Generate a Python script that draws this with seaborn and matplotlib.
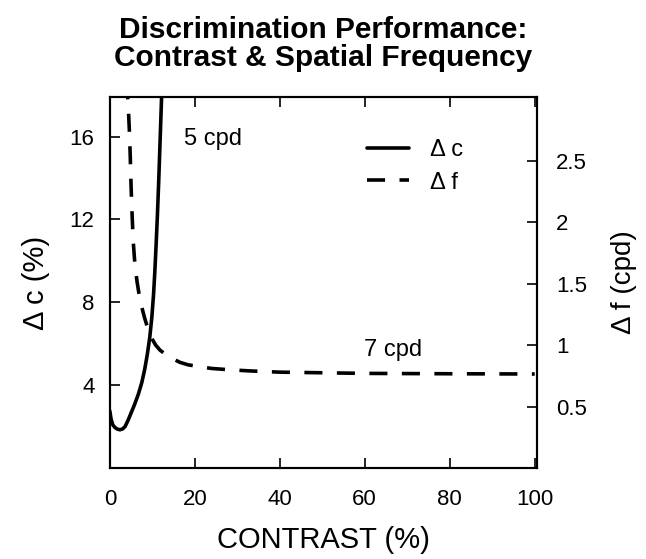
import matplotlib
matplotlib.use("Agg")
import matplotlib.pyplot as plt
import seaborn as sns
import pandas as pd

# Data
contrast_c = [0, 0.3, 0.7, 1.2, 1.8, 2.4, 3.0, 3.6, 4.3, 5.0, 5.8, 6.7, 7.5, 8.2, 8.8,
              9.4, 9.9, 10.3, 10.6, 10.9, 11.2, 11.5, 11.8, 12.1, 12.4]
delta_c = [2.75, 2.35, 2.08, 1.95, 1.87, 1.84, 1.88, 2.0, 2.3, 2.65, 3.05, 3.55, 4.1, 4.75, 5.45,
           6.3, 7.3, 8.4, 9.5, 10.8, 12.2, 13.8, 15.6, 17.4, 19.2]

contrast_f = [4.0, 4.2, 4.4, 4.6, 4.8, 5.0, 5.2, 5.5, 5.9, 6.4, 7.0, 7.6, 8.2, 9.0, 9.8,
              10.8, 11.8, 13.3, 14.8, 16.5, 18.4, 21, 24, 28, 33, 40, 50, 60, 80, 100]
delta_f = [3.15, 3.02, 2.9, 2.75, 2.55, 2.3, 2.1, 1.85, 1.66, 1.52, 1.39, 1.3, 1.22, 1.13, 1.06,
           1.0, 0.96, 0.92, 0.89, 0.86, 0.84, 0.825, 0.81, 0.80, 0.79, 0.78, 0.775, 0.77, 0.767, 0.765]

x_ticks = [0, 20, 40, 60, 80, 100]
left_ticks = [4, 8, 12, 16]
right_ticks = [0.5, 1, 1.5, 2, 2.5]
right_tick_labels = ["0.5", "1", "1.5", "2", "2.5"]

sns.set_style("ticks")
plt.rcParams["font.family"] = ["Liberation Sans", "DejaVu Sans"]
for k in ["text.color", "axes.labelcolor", "xtick.color", "ytick.color", "axes.edgecolor"]:
    plt.rcParams[k] = "black"

df_c = pd.DataFrame({"contrast": contrast_c, "dc": delta_c})
df_f = pd.DataFrame({"contrast": contrast_f, "df": delta_f})

fig = plt.figure(figsize=(6.46, 5.59), dpi=100)
ax = fig.add_axes([0.170, 0.163, 0.661, 0.663])
ax2 = ax.twinx()

sns.lineplot(data=df_c, x="contrast", y="dc", ax=ax, color="black",
             linewidth=2.6, label="\u0394 c", sort=False, legend=False)
sns.lineplot(data=df_f, x="contrast", y="df", ax=ax2, color="black",
             linewidth=2.6, label="\u0394 f", sort=False, legend=False)
ax2.lines[0].set_dashes((5, 4))

ax.set_xlim(0, 100.5)
ax.set_ylim(0, 17.9)
ax2.set_ylim(0, 3.02)

ax.set_xticks(x_ticks)
ax.set_yticks(left_ticks)
ax2.set_yticks(right_ticks)
ax2.set_yticklabels(right_tick_labels)

ax.tick_params(axis="x", direction="in", labelsize=16, length=7, width=1.2,
               top=True, pad=15)
ax.tick_params(axis="y", direction="in", labelsize=16, length=7, width=1.2, pad=11)
ax2.tick_params(axis="y", direction="in", labelsize=16, length=7, width=1.2, pad=14)

for a in (ax, ax2):
    for s in a.spines.values():
        s.set_linewidth(1.5)
        s.set_visible(True)

ax.set_xlabel("CONTRAST (%)", fontsize=21, labelpad=12)
ax.set_ylabel("\u0394 c (%)", fontsize=21, labelpad=14)
ax2.set_ylabel("\u0394 f (cpd)", fontsize=20, labelpad=17)

ax.text(24.2, 15.9, "5 cpd", fontsize=17, ha="center", va="center")
ax.text(66.6, 5.7, "7 cpd", fontsize=17, ha="center", va="center")

h1, l1 = ax.get_legend_handles_labels()
h2, l2 = ax2.get_legend_handles_labels()
leg = ax2.legend(h1 + h2, l1 + l2, loc="upper left", bbox_to_anchor=(0.553, 0.945),
                 frameon=False, fontsize=17, handlelength=1.75, labelspacing=0.45,
                 handletextpad=0.9)

fig.suptitle("Discrimination Performance:\nContrast & Spatial Frequency",
             fontsize=21.5, fontweight="bold", y=0.972, va="top", linespacing=1.0)

fig.savefig("out.png", dpi=100)
